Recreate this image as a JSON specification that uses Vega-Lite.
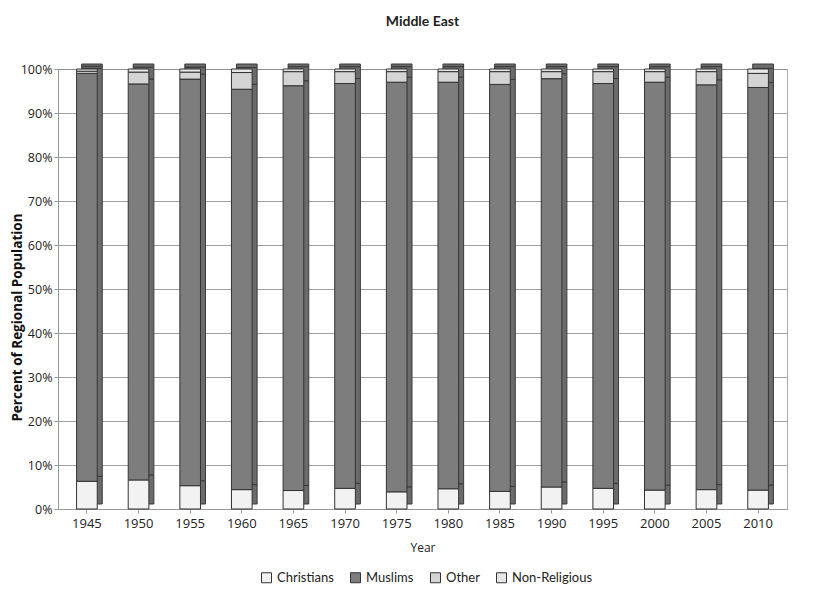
{
  "$schema": "https://vega.github.io/schema/vega-lite/v6.json",
  "autosize": {"type": "none"},
  "width": 729,
  "height": 440,
  "padding": {"left": 58, "top": 69, "right": 37, "bottom": 90},
  "background": "white",
  "title": {"text": "Middle East", "font": "Lato", "fontSize": 14, "fontWeight": "bold", "color": "#222", "offset": 34, "anchor": "middle"},
  "data": {"values": [
    {"year": "1945", "religion": "Christians", "pct": 6.3}, {"year": "1945", "religion": "Muslims", "pct": 92.7}, {"year": "1945", "religion": "Other", "pct": 0.5}, {"year": "1945", "religion": "Non-Religious", "pct": 0.5},
    {"year": "1950", "religion": "Christians", "pct": 6.6}, {"year": "1950", "religion": "Muslims", "pct": 90.0}, {"year": "1950", "religion": "Other", "pct": 2.7}, {"year": "1950", "religion": "Non-Religious", "pct": 0.7},
    {"year": "1955", "religion": "Christians", "pct": 5.3}, {"year": "1955", "religion": "Muslims", "pct": 92.4}, {"year": "1955", "religion": "Other", "pct": 1.6}, {"year": "1955", "religion": "Non-Religious", "pct": 0.7},
    {"year": "1960", "religion": "Christians", "pct": 4.4}, {"year": "1960", "religion": "Muslims", "pct": 91.0}, {"year": "1960", "religion": "Other", "pct": 3.8}, {"year": "1960", "religion": "Non-Religious", "pct": 0.8},
    {"year": "1965", "religion": "Christians", "pct": 4.2}, {"year": "1965", "religion": "Muslims", "pct": 92.0}, {"year": "1965", "religion": "Other", "pct": 3.2}, {"year": "1965", "religion": "Non-Religious", "pct": 0.6},
    {"year": "1970", "religion": "Christians", "pct": 4.7}, {"year": "1970", "religion": "Muslims", "pct": 92.0}, {"year": "1970", "religion": "Other", "pct": 2.7}, {"year": "1970", "religion": "Non-Religious", "pct": 0.6},
    {"year": "1975", "religion": "Christians", "pct": 3.9}, {"year": "1975", "religion": "Muslims", "pct": 93.1}, {"year": "1975", "religion": "Other", "pct": 2.4}, {"year": "1975", "religion": "Non-Religious", "pct": 0.6},
    {"year": "1980", "religion": "Christians", "pct": 4.6}, {"year": "1980", "religion": "Muslims", "pct": 92.4}, {"year": "1980", "religion": "Other", "pct": 2.4}, {"year": "1980", "religion": "Non-Religious", "pct": 0.6},
    {"year": "1985", "religion": "Christians", "pct": 4.0}, {"year": "1985", "religion": "Muslims", "pct": 92.5}, {"year": "1985", "religion": "Other", "pct": 2.9}, {"year": "1985", "religion": "Non-Religious", "pct": 0.6},
    {"year": "1990", "religion": "Christians", "pct": 5.0}, {"year": "1990", "religion": "Muslims", "pct": 92.8}, {"year": "1990", "religion": "Other", "pct": 1.6}, {"year": "1990", "religion": "Non-Religious", "pct": 0.6},
    {"year": "1995", "religion": "Christians", "pct": 4.7}, {"year": "1995", "religion": "Muslims", "pct": 92.0}, {"year": "1995", "religion": "Other", "pct": 2.7}, {"year": "1995", "religion": "Non-Religious", "pct": 0.6},
    {"year": "2000", "religion": "Christians", "pct": 4.3}, {"year": "2000", "religion": "Muslims", "pct": 92.7}, {"year": "2000", "religion": "Other", "pct": 2.4}, {"year": "2000", "religion": "Non-Religious", "pct": 0.6},
    {"year": "2005", "religion": "Christians", "pct": 4.4}, {"year": "2005", "religion": "Muslims", "pct": 92.0}, {"year": "2005", "religion": "Other", "pct": 3.0}, {"year": "2005", "religion": "Non-Religious", "pct": 0.6},
    {"year": "2010", "religion": "Christians", "pct": 4.3}, {"year": "2010", "religion": "Muslims", "pct": 91.5}, {"year": "2010", "religion": "Other", "pct": 3.2}, {"year": "2010", "religion": "Non-Religious", "pct": 1.0}
  ]},
  "transform": [
    {"calculate": "indexof(['Christians', 'Muslims', 'Other', 'Non-Religious'], datum.religion)", "as": "stackIndex"}
  ],
  "encoding": {
    "x": {
      "field": "year", "type": "ordinal",
      "scale": {"paddingInner": 0.6, "paddingOuter": 0.36},
      "axis": {"title": "Year", "labelAngle": 0, "labelFont": "Open Sans", "labelFontSize": 13, "labelColor": "#222", "titleFont": "Open Sans", "titleFontSize": 12, "titleFontWeight": "normal", "titleColor": "#222", "titlePadding": 12, "domainColor": "#999", "tickColor": "#999", "tickSize": 4, "labelPadding": 4}
    },
    "y": {
      "field": "pct", "type": "quantitative", "stack": "normalize",
      "scale": {"domain": [0, 1]},
      "axis": {"title": "Percent of Regional Population", "format": ".0%", "values": [0, 0.1, 0.2, 0.3, 0.4, 0.5, 0.6, 0.7, 0.8, 0.9, 1], "labelOverlap": false, "labelFont": "Open Sans", "labelFontSize": 12.5, "labelColor": "#222", "labelPadding": 2, "titleFont": "Open Sans", "titleFontSize": 13.5, "titleFontWeight": "bold", "titleColor": "#111", "titleX": -41, "titleY": 248, "titleAlign": "center", "titleBaseline": "middle", "grid": true, "gridColor": "#888", "gridWidth": 0.8, "domainColor": "#999", "tickColor": "#999", "tickSize": 4}
    },
    "order": {"field": "stackIndex", "type": "quantitative", "sort": "ascending"}
  },
  "layer": [
    {
      "mark": {"type": "bar", "fill": "#6b6b6b", "stroke": "#3a3a3a", "strokeWidth": 1, "xOffset": 5, "yOffset": -5},
      "encoding": {
        "detail": {"field": "religion", "type": "nominal"}
      }
    },
    {
      "mark": {"type": "bar", "stroke": "#333", "strokeWidth": 1},
      "encoding": {
        "color": {
          "field": "religion", "type": "nominal",
          "sort": ["Christians", "Muslims", "Other", "Non-Religious"],
          "scale": {"domain": ["Christians", "Muslims", "Other", "Non-Religious"], "range": ["#f2f2f2", "#7d7d7d", "#d4d4d4", "#e6e6e6"]},
          "legend": {"title": null, "orient": "none", "legendX": 202, "legendY": 502, "direction": "horizontal", "symbolType": "square", "symbolSize": 100, "symbolStrokeColor": "#333", "symbolStrokeWidth": 1, "labelFont": "Lato", "labelFontSize": 13, "labelColor": "#222", "columnPadding": 14}
        }
      }
    }
  ],
  "config": {"view": {"stroke": "#aaa"}}
}
